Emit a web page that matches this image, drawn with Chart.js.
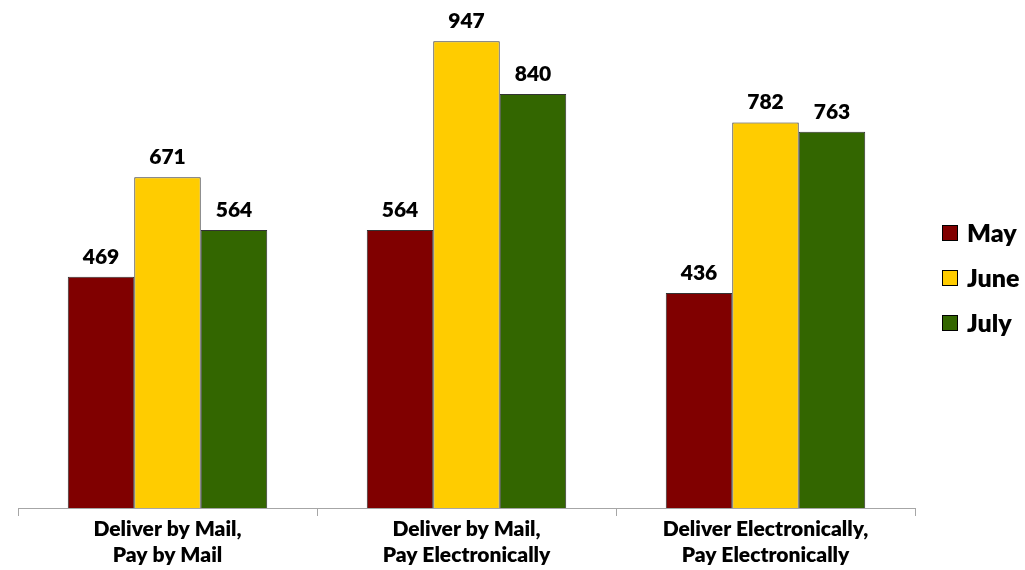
<!DOCTYPE html>
<html>
<head>
<meta charset="utf-8">
<script src="https://cdn.jsdelivr.net/npm/chart.js@4.4.1/dist/chart.umd.min.js"></script>
<style>
html,body{margin:0;padding:0;background:#fff;}
#wrap{width:1025px;height:570px;position:relative;}
</style>
</head>
<body>
<div id="wrap"><canvas id="c" width="1025" height="570"></canvas></div>
<script>
const categories = [["Deliver by Mail,", "Pay by Mail"], ["Deliver by Mail,", "Pay Electronically"], ["Deliver Electronically,", "Pay Electronically"]];
const seriesNames = ["May", "June", "July"];
const mayValues = [469, 564, 436];
const juneValues = [671, 947, 782];
const julyValues = [564, 840, 763];
const seriesColors = ["#800000", "#FFCC00", "#336600"];

const FONT = "Lato, 'Open Sans', sans-serif";

const valueLabels = {
  id: 'valueLabels',
  afterDatasetsDraw(chart) {
    const ctx = chart.ctx;
    ctx.save();
    ctx.font = "800 21px " + FONT;
    ctx.fillStyle = "#000";
    ctx.textAlign = "center";
    ctx.textBaseline = "alphabetic";
    chart.data.datasets.forEach((ds, i) => {
      const meta = chart.getDatasetMeta(i);
      meta.data.forEach((el, j) => {
        ctx.fillText(String(ds.data[j]), el.x, el.y - 13);
      });
    });
    ctx.restore();
  }
};

const customLegend = {
  id: 'customLegend',
  afterDraw(chart) {
    const ctx = chart.ctx;
    ctx.save();
    ctx.font = "800 25px " + FONT;
    ctx.textBaseline = "middle";
    ctx.textAlign = "left";
    chart.data.datasets.forEach((ds, i) => {
      const cy = 233 + i * 45;
      ctx.fillStyle = ds.backgroundColor;
      ctx.fillRect(942, cy - 8, 16, 16);
      ctx.strokeStyle = "#000";
      ctx.lineWidth = 1;
      ctx.strokeRect(942.5, cy - 7.5, 15, 15);
      ctx.fillStyle = "#000";
      ctx.fillText(ds.label, 967, cy + 1);
    });
    ctx.restore();
  }
};

new Chart(document.getElementById('c'), {
  type: 'bar',
  data: {
    labels: categories,
    datasets: [
      { label: seriesNames[0], data: mayValues, backgroundColor: seriesColors[0] },
      { label: seriesNames[1], data: juneValues, backgroundColor: seriesColors[1] },
      { label: seriesNames[2], data: julyValues, backgroundColor: seriesColors[2] }
    ].map(d => Object.assign(d, { borderColor: "#333", borderWidth: 1, barPercentage: 1, categoryPercentage: 0.667 }))
  },
  options: {
    responsive: false,
    animation: false,
    devicePixelRatio: 1,
    layout: { padding: { left: 18, right: 110, top: 15, bottom: 0 } },
    plugins: { legend: { display: false }, tooltip: { enabled: false } },
    scales: {
      x: {
        grid: { display: true, drawOnChartArea: false, drawTicks: true, tickLength: 8, color: "#a6a6a6", offset: true },
        border: { display: true, color: "#a6a6a6", width: 1 },
        ticks: { color: "#000", font: { family: FONT, weight: "800", size: 21, lineHeight: 1.24 }, padding: 0, maxRotation: 0, autoSkip: false },
        afterFit(scale) { scale.height = 62; }
      },
      y: {
        display: false,
        min: 0,
        max: 1000
      }
    }
  },
  plugins: [valueLabels, customLegend]
});
</script>
</body>
</html>
